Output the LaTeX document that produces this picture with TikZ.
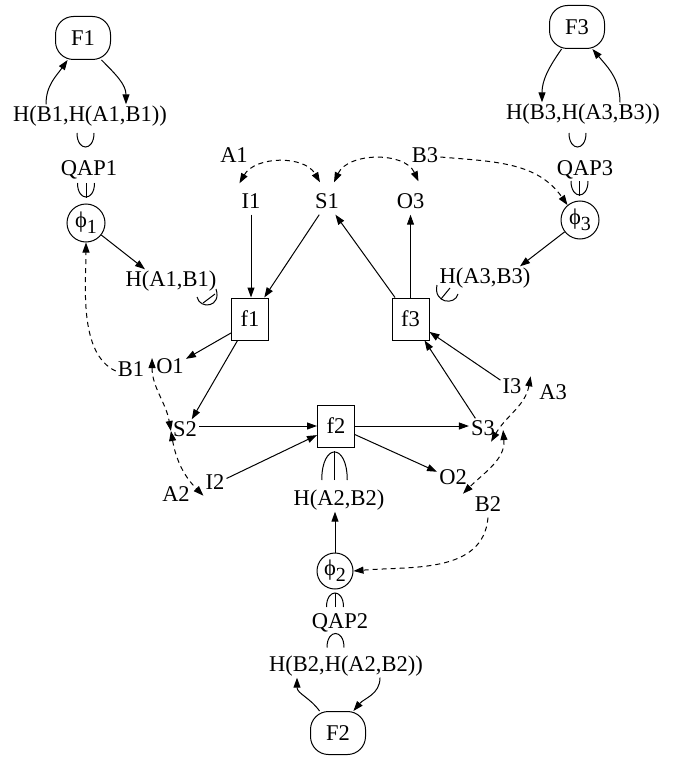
\documentclass[tikz,border=0pt]{standalone}
\usepackage{fontspec}
\setmainfont{Liberation Serif}
\usetikzlibrary{arrows.meta,calc}
\begin{document}
\begin{tikzpicture}[x=1pt,y=-1pt,
  every node/.style={font=\fontsize{22.5}{26}\selectfont},
  lbl/.style={inner sep=2pt,text height=15pt,text depth=4pt,yshift=-3pt},
  fbox/.style={draw,line width=1pt,rounded corners=18pt,minimum width=55pt,minimum height=43pt,inner sep=0pt},
  sq/.style={draw,line width=1pt,minimum width=37pt,minimum height=42pt,inner sep=0pt},
  phic/.style={draw,circle,line width=1pt,minimum size=38pt,inner sep=0pt},
  arr/.style={line width=1pt,-{Triangle[length=10pt,width=7pt]}},
  darr/.style={arr,dash pattern=on 5pt off 4pt},
  dboth/.style={line width=1pt,dash pattern=on 5pt off 4pt,{Triangle[length=10pt,width=7pt]}-{Triangle[length=10pt,width=7pt]}},
  sym/.style={line width=1pt},
  cupsym/.pic={\draw[sym] (-8.5,-7) .. controls (-8.5,11.7) and (8.5,11.7) .. (8.5,-7);},
  cuplinesym/.pic={\draw[sym] (-8.5,-7) .. controls (-8.5,11.7) and (8.5,11.7) .. (8.5,-7);
                   \draw[sym] (0,-7) -- (0,7.5);},
  capsym/.pic={\draw[sym] (-8.5,7) .. controls (-8.5,-11.7) and (8.5,-11.7) .. (8.5,7);},
  caplinesym/.pic={\draw[sym] (-8.5,7) .. controls (-8.5,-11.7) and (8.5,-11.7) .. (8.5,7);
                   \draw[sym] (0,7) -- (0,-7.5);}
]
\useasboundingbox (0,0) rectangle (680,757);

% ---- top left ----
\node[fbox] (F1) at (83,38) {F1};
\node[lbl] (HB1) at (90,113) {H(B1,H(A1,B1))};
\node[lbl] (QAP1) at (89,167) {QAP1};
\node[phic] (phi1) at (86,223) {ϕ\raisebox{-6pt}{\fontsize{20}{20}\selectfont 1}};
\node[lbl] (HA1) at (171,278) {H(A1,B1)};

% ---- top right ----
\node[fbox] (F3) at (577,27) {F3};
\node[lbl] (HB3) at (583,111) {H(B3,H(A3,B3))};
\node[lbl] (QAP3) at (585,167) {QAP3};
\node[phic] (phi3) at (580,220) {ϕ\raisebox{-6pt}{\fontsize{20}{20}\selectfont 3}};
\node[lbl] (HA3) at (485,275) {H(A3,B3)};

% ---- middle ----
\node[lbl] (A1) at (234,154) {A1};
\node[lbl] (B3) at (425,154) {B3};
\node[lbl] (I1) at (251,200) {I1};
\node[lbl] (S1) at (327,200) {S1};
\node[lbl] (O3) at (410.5,200) {O3};
\node[sq] (f1) at (250,319) {f1};
\node[sq] (f3) at (410.5,319) {f3};
\node[lbl] (B1) at (131,368) {B1};
\node[lbl] (O1) at (170,365) {O1};
\node[lbl] (S2) at (185,428) {S2};
\node[sq] (f2) at (336,426) {f2};
\node[lbl] (S3) at (483,427) {S3};
\node[lbl] (I3) at (512,385) {I3};
\node[lbl] (A3) at (553,391) {A3};
\node[lbl] (I2) at (215,481) {I2};
\node[lbl] (A2) at (176,493) {A2};
\node[lbl] (O2) at (453,476) {O2};
\node[lbl] (B2) at (488,503) {B2};

% ---- bottom ----
\node[lbl] (HA2) at (339,497) {H(A2,B2)};
\node[phic,minimum size=36pt] (phi2) at (335,571) {ϕ\raisebox{-6pt}{\fontsize{20}{20}\selectfont 2}};
\node[lbl] (QAP2) at (340,620) {QAP2};
\node[lbl] (HB2) at (346,663) {H(B2,H(A2,B2))};
\node[fbox] (F2) at (338,733) {F2};

% ---- F loops ----
\draw[arr] ([xshift=-44pt]HB1.north) to[out=90,in=235] (F1.235);
\draw[arr] (F1.-50) to[out=-45,in=90] ([xshift=36pt]HB1.north);
\draw[arr] (F3.235) to[out=235,in=90] ([xshift=-41pt]HB3.north);
\draw[arr] ([xshift=37pt]HB3.north) to[out=90,in=-50] (F3.-55);
\draw[arr] (F2.130) to[out=125,in=270] ([xshift=-49pt]HB2.south);
\draw[arr] ([xshift=34pt]HB2.south) to[out=270,in=50] (F2.55);

% ---- cup / cap symbols ----
\coordinate (c1) at (85.5,140);
\coordinate (c2) at (86,190);
\coordinate (c3) at (577.5,140);
\coordinate (c4) at (579.5,188);
\coordinate (c5) at (335,600);
\coordinate (c6) at (335.5,640.5);
\coordinate (c7) at (334.5,466);
\pic at (c1) {cupsym};
\pic at (c2) {cuplinesym};
\pic at (c3) {cupsym};
\pic at (c4) {cuplinesym};
\pic at (c5) {caplinesym};
\pic at (c6) {capsym};
\pic[xscale=1.5,yscale=2] at (c7) {caplinesym};

% symbols next to H(A1,B1) and H(A3,B3)
\coordinate (s1) at (208,297);
\coordinate (s3) at (447,293);
\draw[sym] ($(s1)+(-11,0)$) .. controls ($(s1)+(-8,13)$) and ($(s1)+(14,10)$) .. ($(s1)+(8,-8)$);
\draw[sym] ($(s1)+(-5,6)$) -- ($(s1)+(7,-3)$);
\draw[sym] ($(s3)+(-10,-8)$) .. controls ($(s3)+(-14,10)$) and ($(s3)+(8,13)$) .. ($(s3)+(11,1)$);
\draw[sym] ($(s3)+(-6,6)$) -- ($(s3)+(3,-5)$);

% ---- solid arrows ----
\draw[arr] (phi1) -- ([xshift=-26pt]HA1.north);
\draw[arr] (phi3) -- ([xshift=35pt]HA3.north);
\draw[arr] (I1) -- (I1 |- f1.north);
\draw[arr] (S1) -- (f1);
\draw[arr] (f3) -- (S1);
\draw[arr] (f3) -- (O3);
\draw[arr] ([yshift=-14pt]f1.west) -- (O1);
\draw[arr] (f1) -- (S2);
\draw[arr] (S2.east |- f2) -- (f2.west);
\draw[arr] (I2) -- (f2);
\draw[arr] (f2.east) -- (f2 -| S3.west);
\draw[arr] (f2) -- (O2);
\draw[arr] (S3) -- (f3);
\draw[arr] (I3) -- (f3);
\draw[arr] (phi2) -- (phi2 |- HA2.south);

% ---- dashed ----
\draw[dboth] ([yshift=8pt]I1.north west) to[out=60,in=120] ([xshift=-7pt,yshift=9pt]S1.north);
\draw[dboth] ([xshift=7pt,yshift=9pt]S1.north) to[out=65,in=115] ([xshift=8pt,yshift=10pt]O3.north);
\draw[dboth] ([xshift=-2pt,yshift=10pt]O1.west) to[out=-90,in=100] (S2.west);
\draw[dboth] (S2.west) to[out=-80,in=135] (I2.south west);
\draw[dboth] ([xshift=7pt]I3.north east) to[out=-100,in=60] ([xshift=-6pt]S3.south east);
\draw[dboth] ([xshift=6pt]S3.east) to[out=-85,in=45] ([xshift=-6pt,yshift=-3pt]O2.south east);
\draw[darr] (B1.west) to[out=155,in=270,looseness=0.8] (phi1.south);
\draw[darr] (B3.east) to[out=-5,in=125] (phi3.130);
\draw[darr] (B2.south) to[out=-95,in=5] (phi2.east);
\end{tikzpicture}
\end{document}
